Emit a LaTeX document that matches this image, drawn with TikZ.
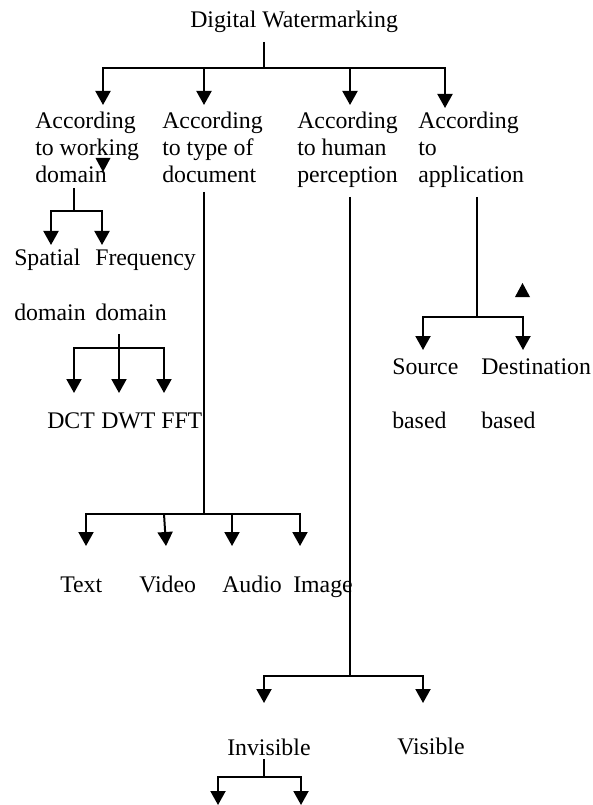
\documentclass[tikz,border=0pt]{standalone}
\usepackage{amsmath}
\usepackage{fontspec}
\setmainfont{Liberation Serif}
\usetikzlibrary{arrows.meta}

\begin{document}
\begin{tikzpicture}[x=0.75pt,y=0.75pt,yscale=-1,xscale=1,
        lbl/.style={anchor=base west,inner sep=0pt,align=left,font=\fontsize{17.85}{20.25}\selectfont},
        ln/.style={line width=1.5pt},
        arr/.style={line width=1.5pt,-{Triangle[width=11.25pt,length=10.5pt]}}]
        \path[use as bounding box] (0,0) rectangle (592,805);

        % Text Node (base = last line)
        \node[lbl] (dw) at (190,28) {Digital Watermarking};
        \node[lbl] (wdom) at (35,183) {According\\to working\\domain};
        \node[lbl] (tdoc) at (162,183) {According\\to type of\\document};
        \node[lbl] (hper) at (297,183) {According\\to human\\perception};
        \node[lbl] (appl) at (418,183) {According\\to\\application};
        \node[lbl] (spat) at (14,320) {Spatial\\[20.25pt]domain};
        \node[lbl] (freq) at (95,320) {Frequency\\[20.25pt]domain};
        \node[lbl] (dct) at (47,428) {DCT};
        \node[lbl] (dwt) at (101,428) {DWT};
        \node[lbl] (fft) at (161,428) {FFT};
        \node[lbl] (txt) at (60,592) {Text};
        \node[lbl] (vid) at (139,592) {Video};
        \node[lbl] (aud) at (222,592) {Audio};
        \node[lbl] (img) at (293,592) {Image};
        \node[lbl] (src) at (392,428) {Source\\[20.25pt]based};
        \node[lbl] (dst) at (481,428) {Destination\\[20.25pt]based};
        \node[lbl] (inv) at (227,755) {Invisible};
        \node[lbl] (vis) at (397,754) {Visible};

        % stems and arrow ends
        \coordinate (dws) at (264,42);   \coordinate (dwb) at (264,68);
        \coordinate (wds) at (74,188);   \coordinate (wdb) at (74,211);
        \coordinate (frs) at (119,334);  \coordinate (frb) at (119,348);
        \coordinate (tds) at (204,192);  \coordinate (tdb) at (204,514);
        \coordinate (hps) at (350,197);  \coordinate (hpb) at (350,676);
        \coordinate (aps) at (477,197);  \coordinate (apb) at (477,317);
        \coordinate (ivs) at (264,759);  \coordinate (ivb) at (264,777);
        \coordinate (vdb) at (164,514);

        \coordinate (a1) at (103,105); \coordinate (a2) at (204,105);
        \coordinate (a3) at (350,105); \coordinate (a4) at (445,108);
        \coordinate (a5) at (51,245);  \coordinate (a6) at (102,245);
        \coordinate (a7) at (74,393);  \coordinate (a8) at (119,393);
        \coordinate (a9) at (164,393);
        \coordinate (a10) at (86,546); \coordinate (a11) at (166,546);
        \coordinate (a12) at (232,546); \coordinate (a13) at (300,546);
        \coordinate (a14) at (423,350); \coordinate (a15) at (523,350);
        \coordinate (a16) at (264,703); \coordinate (a17) at (423,703);
        \coordinate (a18) at (218,805); \coordinate (a19) at (301,805);

        %Straight Lines
        \draw[ln] (dws) -- (dwb);
        \foreach \t in {a1,a2,a3,a4} \draw[arr] (dwb) -| (\t);
        \draw[ln] (wds) -- (wdb);
        \foreach \t in {a5,a6} \draw[arr] (wdb) -| (\t);
        \draw[ln] (frs) -- (frb);
        \foreach \t in {a7,a8,a9} \draw[arr] (frb) -| (\t);
        \draw[ln] (tds) -- (tdb);
        \foreach \t in {a10,a12,a13} \draw[arr] (tdb) -| (\t);
        \draw[arr] (vdb) -- (a11);
        \draw[ln] (aps) -- (apb);
        \foreach \t in {a14,a15} \draw[arr] (apb) -| (\t);
        \draw[ln] (hps) -- (hpb);
        \foreach \t in {a16,a17} \draw[arr] (hpb) -| (\t);
        \draw[ln] (ivs) -- (ivb);
        \foreach \t in {a18,a19} \draw[arr] (ivb) -| (\t);

        % stray heads
        \fill (95.5,158) -- (110.5,158) -- (103,172) -- cycle;
        \fill (515,297) -- (530,297) -- (522.5,283) -- cycle;
\end{tikzpicture}
\end{document}
